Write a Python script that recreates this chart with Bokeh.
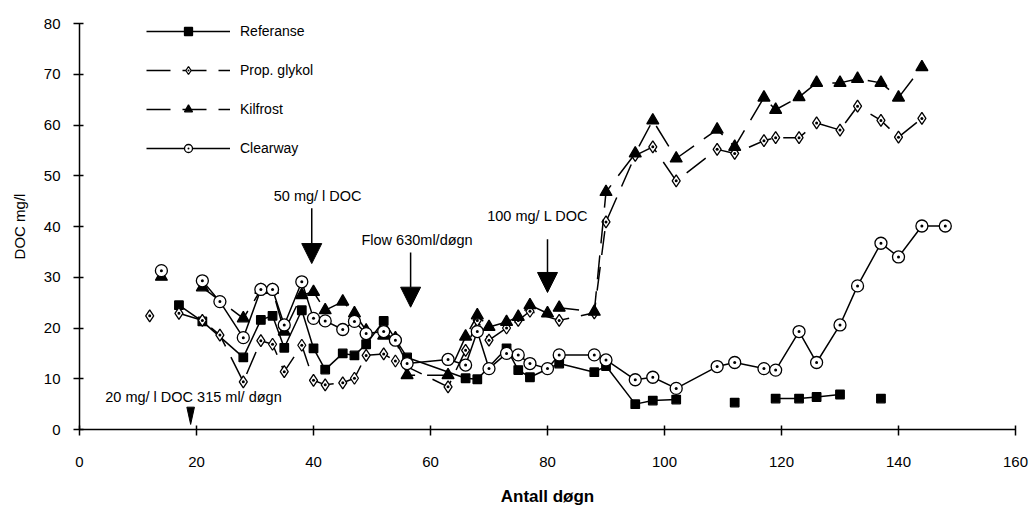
import math
from bokeh.plotting import figure
from bokeh.models import (Range1d, Label, Arrow, NormalHead, Legend, LegendItem,
                          FixedTicker)
from bokeh.embed import file_html
from bokeh.resources import INLINE

# ---------------- data ----------------
ref_x = [17, 21, 28, 31, 33, 35, 38, 40, 42, 45, 47, 49, 52, 56, 66, 68, 73, 75, 77,
         82, 88, 90, 95, 98, 102, 112, 119, 123, 126, 130, 137]
ref_y = [24.5, 21.3, 14.2, 21.6, 22.4, 16.1, 23.5, 16.0, 11.8, 15.0, 14.6, 16.8, 21.4,
         14.2, 10.1, 9.9, 16.0, 11.7, 10.3, 13.0, 11.3, 12.5, 5.0, 5.7, 5.9, 5.3, 6.1,
         6.1, 6.4, 6.9, 6.1]
ref_breaks = [102, 112, 130]

prop_x = [12, 17, 21, 24, 28, 31, 33, 35, 38, 40, 42, 45, 47, 49, 52, 54, 63, 66, 68,
          70, 73, 75, 77, 82, 88, 90, 95, 98, 102, 109, 112, 117, 119, 123, 126, 130,
          133, 137, 140, 144]
prop_y = [22.4, 22.9, 21.5, 18.6, 9.4, 17.5, 16.8, 11.4, 16.6, 9.7, 8.8, 9.2, 10.1,
          14.6, 14.9, 13.5, 8.4, 15.6, 21.5, 17.6, 20.0, 21.5, 23.3, 21.5, 23.0, 40.9,
          54.0, 55.7, 49.0, 55.2, 54.4, 56.9, 57.5, 57.5, 60.4, 59.0, 63.7, 60.9, 57.6,
          61.3]
prop_breaks = [12]

kil_x = [14, 21, 28, 31, 33, 35, 38, 40, 42, 45, 47, 49, 52, 54, 56, 63, 66, 68, 70,
         73, 75, 77, 80, 82, 88, 90, 95, 98, 102, 109, 112, 117, 119, 123, 126, 130,
         133, 137, 140, 144]
kil_y = [30.1, 28.0, 21.9, 27.5, 27.5, 19.3, 26.5, 27.1, 23.5, 25.2, 22.9, 19.5, 18.5,
         18.0, 10.7, 10.7, 18.3, 22.5, 20.2, 21.2, 22.2, 24.5, 22.9, 24.0, 23.2, 46.8,
         54.4, 60.9, 53.4, 59.1, 55.7, 65.4, 63.0, 65.5, 68.3, 68.3, 69.1, 68.3, 65.4,
         71.4]
kil_breaks = [14]

clw_x = [14, 21, 24, 28, 31, 33, 35, 38, 40, 42, 45, 47, 49, 52, 54, 56, 63, 66, 68,
         70, 73, 75, 77, 80, 82, 88, 90, 95, 98, 102, 109, 112, 117, 119, 123, 126,
         130, 133, 137, 140, 144, 148]
clw_y = [31.3, 29.3, 25.2, 18.1, 27.6, 27.6, 20.6, 29.1, 21.9, 21.4, 19.7, 21.3, 18.9,
         19.3, 17.6, 13.0, 13.8, 12.7, 19.3, 12.0, 15.0, 14.7, 13.0, 12.0, 14.7, 14.7,
         13.7, 9.8, 10.3, 8.1, 12.4, 13.2, 12.0, 11.7, 19.3, 13.2, 20.6, 28.3, 36.7,
         34.0, 40.1, 40.1]
clw_breaks = [14]

series_names = ["Referanse", "Prop. glykol", "Kilfrost", "Clearway"]

x_ticks = [0, 20, 40, 60, 80, 100, 120, 140, 160]
y_ticks = [0, 10, 20, 30, 40, 50, 60, 70, 80]

# annotations
ann_texts = ["50 mg/ l DOC", "Flow 630ml/døgn", "100 mg/ L DOC", "20 mg/ l DOC 315 ml/ døgn"]
ann_x = [33.2, 48.2, 69.7, 4.4]
ann_y = [46.0, 37.3, 42.0, 6.5]
arrow_x = [39.7, 56.6, 80.0]
arrow_y_start = [43.6, 34.9, 37.5]
arrow_y_end = [32.7, 24.1, 27.0]
small_tri_x = [18.35, 19.65, 19.0]
small_tri_y = [4.4, 4.4, 1.0]

FONT = "Liberation Sans"


def with_breaks(xs, ys, breaks):
    ox, oy = [], []
    for xv, yv in zip(xs, ys):
        ox.append(xv)
        oy.append(yv)
        if xv in breaks:
            ox.append(float("nan"))
            oy.append(float("nan"))
    return ox, oy


p = figure(width=1033, height=508, output_backend="svg", toolbar_location=None,
           x_range=Range1d(0, 160), y_range=Range1d(0, 80),
           min_border_left=79, min_border_top=23, min_border_right=18,
           min_border_bottom=79)
p.outline_line_color = None
p.xgrid.visible = False
p.ygrid.visible = False
p.background_fill_color = "white"

specs = [
    (ref_x, ref_y, ref_breaks, "solid", dict(marker="square", size=8.5, fill_color="black")),
    (prop_x, prop_y, prop_breaks, "24 12", dict(marker="diamond_dot", size=12, fill_color="white")),
    (kil_x, kil_y, kil_breaks, "24 12", dict(marker="triangle", size=12, fill_color="black")),
    (clw_x, clw_y, clw_breaks, "solid", dict(marker="circle_dot", size=12, fill_color="white")),
]

items = []
for name, (xs, ys, br, dash, mk) in zip(series_names, specs):
    lx, ly = with_breaks(xs, ys, br)
    lr = p.line(lx, ly, line_color="black", line_width=1.5, line_dash=dash)
    sr = p.scatter(xs, ys, line_color="black", line_width=1.3, **mk)
    items.append(LegendItem(label=name, renderers=[lr, sr]))

legend = Legend(items=items, location=(67, 271), orientation="vertical",
                glyph_width=84, glyph_height=20, label_height=20, spacing=19,
                label_standoff=10, padding=0, margin=0,
                border_line_color=None, background_fill_alpha=0,
                label_text_font=FONT, label_text_font_size="14px",
                label_text_color="black")
p.add_layout(legend, "center")

# axes
for ax in (p.xaxis, p.yaxis):
    ax.axis_line_color = "black"
    ax.axis_line_width = 1.5
    ax.major_tick_line_color = "black"
    ax.major_tick_line_width = 1.5
    ax.minor_tick_line_color = None
    ax.major_label_text_font = FONT
    ax.major_label_text_font_size = "15px"
    ax.major_label_text_color = "black"
    ax.axis_label_text_font = FONT
    ax.axis_label_text_color = "black"
    ax.major_tick_in = 4
    ax.major_tick_out = 6

p.xaxis.ticker = FixedTicker(ticks=x_ticks)
p.yaxis.ticker = FixedTicker(ticks=y_ticks)
p.xaxis.axis_label = "Antall døgn"
p.xaxis.axis_label_text_font_style = "bold"
p.xaxis.axis_label_text_font_size = "17px"
p.xaxis.major_label_standoff = 21
p.xaxis.axis_label_standoff = 17
p.yaxis.axis_label = "DOC mg/l"
p.yaxis.axis_label_text_font_style = "normal"
p.yaxis.axis_label_text_font_size = "15px"
p.yaxis.major_label_standoff = 13
p.yaxis.axis_label_standoff = 13

# annotations
for t, xv, yv in zip(ann_texts, ann_x, ann_y):
    p.add_layout(Label(x=xv, y=yv, text=t, text_font=FONT, text_font_size="14.5px",
                       text_align="left", text_baseline="middle", text_color="black"))
for xv, ys, ye in zip(arrow_x, arrow_y_start, arrow_y_end):
    p.add_layout(Arrow(end=NormalHead(size=20, fill_color="black", line_color="black"),
                       x_start=xv, y_start=ys, x_end=xv, y_end=ye,
                       line_color="black", line_width=1.5))
p.patch(small_tri_x, small_tri_y, fill_color="black", line_color="black")

open("out.html", "w").write(file_html(p, INLINE))
